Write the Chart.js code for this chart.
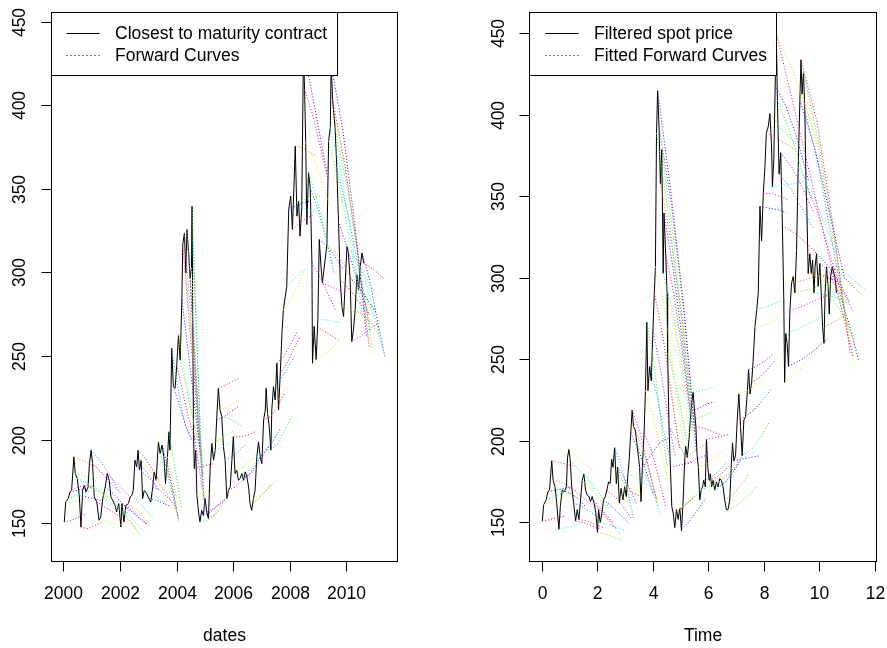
<!DOCTYPE html>
<html>
<head>
<meta charset="utf-8">
<script src="https://cdn.jsdelivr.net/npm/chart.js@4.4.1/dist/chart.umd.min.js"></script>
<style>
  body { margin: 0; background: #fff; }
  canvas { position: absolute; top: 0; }
  #left { left: 0; }
  #right { left: 443px; }
</style>
</head>
<body>
<canvas id="left" width="443" height="648"></canvas>
<canvas id="right" width="444" height="648"></canvas>
<script>
// ---- data: left panel (closest to maturity contract vs dates)
const leftDates = [2000.01, 2000.06, 2000.15, 2000.21, 2000.27, 2000.35, 2000.40, 2000.47, 2000.54, 2000.60, 2000.66, 2000.72, 2000.78, 2000.85, 2000.90, 2000.96,
  2001.01, 2001.07, 2001.16, 2001.24, 2001.30, 2001.37, 2001.46, 2001.53, 2001.60, 2001.66, 2001.75, 2001.81, 2001.86, 2001.94,
  2002.01, 2002.05, 2002.12, 2002.19, 2002.28, 2002.34, 2002.40, 2002.45, 2002.51, 2002.57, 2002.62, 2002.67, 2002.73, 2002.78, 2002.84, 2002.93,
  2003.00, 2003.07, 2003.14, 2003.19, 2003.26, 2003.34, 2003.40, 2003.47, 2003.54, 2003.59, 2003.66, 2003.71, 2003.75, 2003.81, 2003.87, 2003.93, 2003.99,
  2004.05, 2004.11, 2004.17, 2004.20, 2004.26, 2004.31, 2004.35, 2004.41, 2004.46, 2004.51, 2004.53, 2004.58, 2004.61, 2004.66, 2004.70, 2004.76, 2004.81, 2004.87, 2004.93, 2004.99,
  2005.05, 2005.11, 2005.17, 2005.23, 2005.29, 2005.35, 2005.40, 2005.46, 2005.52, 2005.58, 2005.64, 2005.70, 2005.76, 2005.82, 2005.88, 2005.94, 2005.99,
  2006.05, 2006.11, 2006.17, 2006.23, 2006.29, 2006.35, 2006.41, 2006.47, 2006.53, 2006.58, 2006.64, 2006.70, 2006.76, 2006.82, 2006.88, 2006.94,
  2007.00, 2007.06, 2007.12, 2007.15, 2007.20, 2007.26, 2007.32, 2007.35, 2007.41, 2007.47, 2007.53, 2007.59, 2007.65, 2007.71, 2007.76, 2007.88, 2007.95,
  2008.02, 2008.08, 2008.14, 2008.18, 2008.24, 2008.30, 2008.35, 2008.41, 2008.47, 2008.51, 2008.55, 2008.59, 2008.65, 2008.71, 2008.77, 2008.79, 2008.85, 2008.92, 2008.98,
  2009.03, 2009.09, 2009.14, 2009.30, 2009.36, 2009.42, 2009.45, 2009.50, 2009.53, 2009.59, 2009.65, 2009.71, 2009.77, 2009.83, 2009.89,
  2010.01, 2010.06, 2010.12, 2010.18, 2010.24, 2010.30, 2010.36, 2010.42, 2010.48, 2010.54, 2010.60];
const leftSpot = [151, 163, 165, 169, 170, 190, 180, 177, 167, 148, 170, 173, 169, 172, 186, 194,
  186, 166, 163, 152, 154, 165, 172, 180, 176, 166, 163, 161, 157, 162,
  148, 162, 151, 161, 162, 166, 167, 170, 188, 184, 194, 182, 188, 165, 170, 168,
  165, 163, 172, 181, 176, 199, 192, 197, 189, 174, 190, 205, 194, 255, 232, 231, 245,
  263, 248, 284, 317, 324, 300, 326, 312, 297, 303, 340, 206, 183, 194, 167, 157, 151, 158, 155, 165,
  157, 153, 183, 198, 188, 194, 212, 231, 218, 214, 196, 188, 165, 170, 172, 188, 202,
  180, 182, 176, 177, 180, 176, 181, 178, 172, 162, 158, 165, 170, 190, 199, 190,
  186, 212, 218, 231, 216, 208, 194, 218, 232, 224, 246, 218, 240, 264, 278, 292, 338,
  346, 326, 355, 376, 334, 343, 322, 339, 432, 410, 378, 329, 360, 351, 306, 246, 268, 248, 272,
  320, 304, 294, 317, 379, 387, 425, 404, 398, 387, 363, 331, 296, 280, 274,
  316, 312, 297, 259, 266, 278, 299, 290, 304, 312, 306];

// forward curves: first and last date, and four values evenly spread between them
const leftFwdStart = [2000.00, 2000.06, 2000.15, 2000.21, 2000.27, 2000.35, 2000.40, 2000.47, 2000.54, 2000.60, 2000.72, 2000.85, 2000.96,
  2001.01, 2001.16, 2001.24, 2001.37, 2001.46, 2001.53, 2001.66, 2001.81, 2001.94,
  2002.05, 2002.19, 2002.28, 2002.40, 2002.51, 2002.57, 2002.62, 2002.73, 2002.84,
  2003.00, 2003.14, 2003.26, 2003.34, 2003.40, 2003.47, 2003.54, 2003.66, 2003.71, 2003.81, 2003.87, 2003.99,
  2004.05, 2004.11, 2004.17, 2004.20, 2004.26, 2004.31, 2004.35, 2004.41, 2004.46, 2004.51, 2004.53, 2004.55, 2004.58, 2004.61, 2004.70, 2004.81, 2004.93,
  2005.05, 2005.11, 2005.23, 2005.35, 2005.40, 2005.46, 2005.52, 2005.58, 2005.70, 2005.82, 2005.99,
  2006.11, 2006.23, 2006.35, 2006.47, 2006.58, 2006.70, 2006.82, 2006.94,
  2007.06, 2007.20, 2007.32, 2007.41, 2007.53, 2007.65, 2007.76, 2007.88, 2007.95,
  2008.08, 2008.18, 2008.30, 2008.41, 2008.47, 2008.51, 2008.55, 2008.65, 2008.71, 2008.77, 2008.85, 2008.92, 2008.98,
  2009.03, 2009.14, 2009.30, 2009.36, 2009.42, 2009.45, 2009.50, 2009.53, 2009.59, 2009.65, 2009.71, 2009.77, 2009.83,
  2010.01, 2010.12, 2010.18, 2010.30, 2010.42, 2010.48, 2010.54, 2010.60];
const leftFwdEnd = [2000.80, 2000.85, 2000.95, 2001.00, 2001.05, 2001.15, 2001.20, 2001.25, 2001.30, 2001.35, 2001.50, 2001.65, 2002.00,
  2001.90, 2002.00, 2002.10, 2002.20, 2002.30, 2002.40, 2002.55, 2002.70, 2002.80,
  2002.90, 2003.00, 2003.05, 2003.15, 2003.30, 2003.35, 2003.40, 2003.50, 2003.60,
  2003.80, 2003.90, 2003.95, 2004.00, 2004.00, 2004.05, 2004.05, 2004.10, 2004.15, 2004.50, 2004.55, 2004.65,
  2004.70, 2004.75, 2004.80, 2004.82, 2004.85, 2004.87, 2004.88, 2004.90, 2004.92, 2004.93, 2004.95, 2004.98, 2005.00, 2005.30, 2005.40, 2005.60, 2005.70,
  2005.80, 2005.85, 2006.00, 2006.10, 2006.15, 2006.20, 2006.25, 2006.30, 2006.40, 2006.55, 2006.75,
  2006.85, 2006.95, 2007.05, 2007.20, 2007.35, 2007.50, 2007.55, 2007.65,
  2007.80, 2007.90, 2008.05, 2008.15, 2008.25, 2008.35, 2008.50, 2008.60, 2008.70,
  2008.85, 2008.95, 2009.05, 2009.20, 2009.30, 2009.35, 2009.40, 2009.50, 2009.55, 2009.60, 2009.70, 2009.75, 2009.80,
  2009.85, 2009.95, 2010.20, 2010.40, 2010.55, 2010.70, 2010.80, 2010.85, 2010.90, 2010.85, 2010.80, 2010.80, 2010.85,
  2011.00, 2011.05, 2011.10, 2011.15, 2011.25, 2011.30, 2011.35, 2011.35];
const leftFwd = [
  [151, 152, 154, 156], [163, 163, 164, 165], [165, 167, 168, 170], [169, 170, 171, 172], [170, 172, 173, 172],
  [190, 188, 186, 184], [180, 179, 177, 175], [177, 175, 172, 170], [167, 166, 165, 164], [148, 147, 149, 151],
  [173, 171, 169, 166], [172, 170, 168, 165], [194, 187, 178, 168],
  [186, 181, 175, 170], [163, 160, 157, 154], [152, 151, 150, 149], [165, 162, 158, 155], [172, 168, 163, 158],
  [180, 175, 170, 165], [166, 160, 153, 147], [161, 156, 150, 143], [162, 157, 151, 146],
  [162, 158, 154, 150], [161, 157, 153, 149], [162, 159, 154, 150], [167, 163, 158, 153], [188, 184, 178, 172],
  [184, 180, 176, 170], [194, 189, 182, 175], [188, 183, 177, 170], [170, 168, 165, 162],
  [165, 164, 162, 160], [172, 170, 166, 162], [176, 172, 166, 158], [199, 188, 172, 155], [192, 182, 170, 156],
  [197, 185, 170, 153], [189, 178, 166, 152], [190, 180, 168, 157], [205, 190, 175, 160], [255, 230, 210, 200],
  [232, 220, 208, 200], [245, 228, 212, 200],
  [263, 240, 218, 202], [248, 232, 215, 198], [284, 255, 225, 195], [317, 275, 235, 190], [324, 280, 235, 190],
  [300, 265, 225, 185], [326, 280, 230, 182], [312, 265, 220, 178], [297, 250, 205, 170], [303, 250, 200, 160],
  [340, 275, 210, 165], [320, 260, 200, 158], [206, 190, 175, 160], [183, 184, 185, 186], [167, 168, 170, 172],
  [151, 152, 155, 160], [155, 157, 161, 165],
  [157, 159, 162, 166], [153, 156, 162, 168], [198, 200, 203, 206], [194, 196, 198, 200], [212, 214, 217, 220],
  [231, 233, 235, 237], [218, 220, 222, 225], [214, 213, 211, 208], [188, 190, 193, 197], [170, 172, 176, 180],
  [202, 202, 203, 205],
  [182, 184, 188, 192], [177, 180, 185, 190], [176, 180, 186, 193], [178, 182, 188, 196], [162, 164, 169, 174],
  [165, 167, 171, 176], [190, 193, 198, 204], [190, 194, 200, 207],
  [212, 214, 220, 228], [216, 220, 226, 234], [194, 198, 206, 214], [232, 236, 243, 250], [246, 250, 257, 265],
  [240, 246, 254, 262], [278, 283, 292, 302], [292, 296, 300, 303], [338, 340, 342, 343],
  [326, 330, 333, 335], [376, 375, 372, 370], [343, 344, 345, 346], [339, 338, 336, 334], [432, 410, 385, 360],
  [410, 395, 375, 355], [378, 368, 355, 340], [360, 345, 325, 305], [351, 338, 320, 300], [306, 298, 288, 278],
  [268, 266, 263, 260], [248, 251, 255, 260], [272, 272, 271, 270],
  [320, 316, 310, 303], [294, 292, 290, 287], [317, 312, 305, 295], [379, 355, 325, 290], [387, 360, 320, 275],
  [425, 385, 330, 262], [404, 365, 315, 255], [398, 360, 310, 252], [387, 350, 305, 255], [363, 335, 300, 265],
  [331, 312, 292, 275], [296, 290, 282, 275], [280, 278, 275, 272],
  [316, 308, 298, 288], [297, 292, 284, 276], [259, 262, 266, 270], [278, 275, 270, 262], [290, 284, 274, 260],
  [304, 290, 272, 252], [312, 296, 272, 250], [306, 303, 300, 296]];

// ---- data: right panel (filtered spot price vs Time)
const rightTime = [0.00, 0.05, 0.14, 0.20, 0.26, 0.34, 0.39, 0.46, 0.51, 0.60, 0.65, 0.72, 0.79, 0.87, 0.91, 0.96,
  1.01, 1.06, 1.13, 1.20, 1.26, 1.32, 1.38, 1.44, 1.50, 1.56, 1.62, 1.68, 1.74, 1.80, 1.87, 1.93, 1.99,
  2.03, 2.09, 2.15, 2.21, 2.27, 2.33, 2.39, 2.45, 2.50, 2.55, 2.61, 2.67, 2.72, 2.78, 2.84, 2.91, 2.97,
  3.03, 3.09, 3.13, 3.19, 3.24, 3.29, 3.35, 3.41, 3.47, 3.51, 3.56, 3.61, 3.67, 3.72, 3.77, 3.81, 3.87, 3.93, 3.99,
  4.04, 4.08, 4.12, 4.16, 4.21, 4.26, 4.31, 4.36, 4.39, 4.45, 4.50, 4.52, 4.57, 4.62, 4.67, 4.72, 4.78, 4.84, 4.90, 4.96,
  5.02, 5.08, 5.13, 5.17, 5.23, 5.29, 5.34, 5.40, 5.44, 5.49, 5.54, 5.58, 5.63, 5.68, 5.73, 5.78, 5.82, 5.88, 5.92, 5.97,
  6.02, 6.06, 6.11, 6.16, 6.22, 6.28, 6.34, 6.40, 6.46, 6.52, 6.58, 6.64, 6.70, 6.76, 6.82, 6.86, 6.91, 6.97,
  7.03, 7.09, 7.15, 7.21, 7.27, 7.33, 7.39, 7.44, 7.49, 7.55, 7.60, 7.67, 7.73, 7.79, 7.85, 7.91, 7.97,
  8.03, 8.08, 8.15, 8.21, 8.27, 8.30, 8.35, 8.40, 8.44, 8.48, 8.54, 8.60, 8.66, 8.71, 8.74, 8.78, 8.83, 8.88, 8.93, 8.99,
  9.05, 9.11, 9.17, 9.23, 9.29, 9.33, 9.37, 9.42, 9.47, 9.51, 9.54, 9.59, 9.65, 9.70, 9.75, 9.80, 9.84, 9.89, 9.95,
  10.01, 10.06, 10.11, 10.16, 10.20, 10.25, 10.31, 10.35, 10.40, 10.46, 10.52, 10.57, 10.61];
const rightSpot = [151, 161, 164, 169, 170, 188, 176, 172, 164, 146, 160, 170, 169, 172, 190, 195,
  188, 172, 162, 151, 158, 152, 164, 176, 180, 170, 167, 166, 163, 166, 162, 156, 144,
  158, 150, 156, 164, 166, 170, 175, 174, 189, 184, 196, 174, 184, 162, 171, 164, 172,
  166, 180, 188, 205, 219, 209, 207, 199, 190, 184, 163, 184, 205, 231, 273, 231, 246, 237, 268,
  291, 307, 389, 415, 393, 358, 379, 303, 340, 315, 291, 254, 209, 184, 160, 156, 147, 158, 152, 159,
  145, 164, 186, 197, 190, 201, 213, 225, 230, 219, 209, 192, 184, 164, 170, 172, 176, 172, 201, 184,
  176, 180, 172, 176, 170, 175, 172, 177, 176, 172, 164, 158, 158, 164, 186, 199, 188, 191,
  213, 229, 209, 191, 213, 215, 229, 244, 229, 236, 248, 270, 280, 291, 344, 323, 352,
  368, 389, 393, 401, 381, 356, 373, 418, 450, 409, 364, 377, 332, 287, 236, 266, 260, 246, 280, 297,
  301, 291, 317, 368, 409, 434, 413, 426, 403, 358, 344, 303, 315, 303, 311, 291, 307, 315, 295,
  309, 291, 270, 260, 291, 307, 295, 278, 301, 307, 303, 299, 291];

const rightFwdStart = [0.00, 0.05, 0.14, 0.20, 0.34, 0.39, 0.46, 0.60, 0.72, 0.87, 0.96,
  1.01, 1.13, 1.20, 1.32, 1.44, 1.50, 1.62, 1.74, 1.87, 1.99,
  2.09, 2.21, 2.33, 2.45, 2.50, 2.61, 2.72, 2.84, 2.97,
  3.09, 3.19, 3.24, 3.29, 3.41, 3.51, 3.61, 3.67, 3.72, 3.77, 3.87, 3.99,
  4.04, 4.08, 4.12, 4.16, 4.21, 4.26, 4.31, 4.36, 4.39, 4.45, 4.50, 4.52, 4.57, 4.62, 4.72, 4.84, 4.96,
  5.02, 5.13, 5.23, 5.34, 5.44, 5.49, 5.54, 5.63, 5.73, 5.82, 5.92,
  6.02, 6.11, 6.22, 6.34, 6.46, 6.58, 6.70, 6.82, 6.91,
  7.03, 7.09, 7.21, 7.33, 7.44, 7.55, 7.67, 7.73, 7.85, 7.97,
  8.08, 8.21, 8.30, 8.40, 8.44, 8.46, 8.48, 8.54, 8.60, 8.66, 8.74, 8.78, 8.88, 8.93, 8.99,
  9.11, 9.23, 9.29, 9.33, 9.37, 9.42, 9.47, 9.51, 9.59, 9.70, 9.80, 9.89,
  10.01, 10.11, 10.20, 10.31, 10.40, 10.46, 10.52, 10.61];
const rightFwdEnd = [0.80, 0.90, 1.00, 1.05, 1.10, 1.20, 1.30, 1.40, 1.55, 1.70, 1.95,
  1.90, 2.00, 2.10, 2.20, 2.35, 2.45, 2.55, 2.70, 2.80, 2.90,
  3.00, 3.10, 3.20, 3.25, 3.25, 3.30, 3.40, 3.55, 3.70,
  3.90, 4.00, 4.10, 4.15, 4.20, 4.25, 4.60, 4.45, 4.55, 4.50, 4.60, 4.80,
  4.95, 5.10, 5.40, 5.55, 5.55, 5.50, 5.45, 5.40, 5.40, 5.35, 5.30, 5.20, 5.20, 5.40, 5.50, 5.60, 5.75,
  5.90, 6.00, 6.05, 6.15, 6.20, 6.20, 6.40, 6.50, 6.55, 6.65, 6.70,
  6.85, 6.95, 7.05, 7.15, 7.30, 7.45, 7.75, 7.70, 7.80,
  7.90, 8.00, 8.20, 8.25, 8.30, 8.40, 8.55, 8.60, 8.80, 8.90,
  9.20, 9.40, 9.50, 9.60, 11.20, 10.00, 9.70, 9.80, 9.80, 9.90, 10.10, 10.20, 10.30, 10.40, 10.40,
  10.50, 10.60, 10.90, 11.10, 11.10, 11.00, 10.90, 10.80, 10.70, 10.90, 11.00, 11.10,
  11.20, 11.00, 11.30, 11.35, 11.40, 11.50, 11.25, 11.64];
const rightFwd = [
  [151, 152, 153, 154], [161, 163, 165, 167], [164, 166, 168, 170], [169, 170, 171, 172], [188, 187, 186, 185],
  [176, 175, 173, 170], [172, 170, 168, 165], [146, 147, 148, 150], [170, 168, 165, 160], [172, 170, 166, 162],
  [195, 190, 185, 180],
  [188, 183, 177, 170], [162, 160, 157, 153], [151, 150, 148, 146], [152, 151, 149, 147], [176, 171, 165, 158],
  [180, 174, 166, 158], [167, 162, 156, 150], [163, 158, 152, 146], [162, 156, 149, 143], [144, 143, 141, 139],
  [150, 149, 147, 145], [164, 160, 155, 150], [170, 166, 160, 153], [174, 170, 164, 158], [189, 182, 172, 162],
  [196, 185, 170, 152], [184, 178, 170, 162], [171, 170, 168, 166], [172, 171, 170, 168],
  [180, 178, 175, 172], [205, 195, 182, 168], [219, 205, 185, 165], [209, 198, 182, 162], [199, 190, 177, 160],
  [184, 178, 168, 155], [184, 192, 200, 202], [205, 195, 178, 160], [231, 215, 195, 175], [273, 250, 215, 185],
  [246, 230, 208, 190], [268, 245, 215, 190],
  [291, 265, 230, 195], [307, 280, 240, 195], [389, 340, 280, 215], [415, 355, 285, 195], [393, 345, 280, 200],
  [358, 320, 270, 205], [379, 330, 270, 205], [303, 280, 245, 205], [340, 305, 260, 210], [315, 290, 255, 215],
  [291, 270, 240, 205], [254, 240, 222, 200], [209, 203, 196, 190], [184, 185, 186, 187], [156, 158, 162, 166],
  [158, 160, 164, 168], [159, 162, 166, 170],
  [146, 151, 158, 165], [186, 188, 190, 192], [191, 194, 197, 200], [213, 214, 216, 218], [230, 231, 232, 233],
  [219, 221, 223, 224], [209, 208, 206, 204], [184, 186, 190, 194], [170, 172, 176, 181], [176, 178, 182, 187],
  [201, 202, 203, 204],
  [176, 178, 182, 187], [172, 175, 180, 186], [170, 173, 179, 186], [172, 175, 181, 188], [176, 180, 186, 193],
  [164, 167, 173, 180], [158, 161, 166, 172], [186, 188, 191, 194], [188, 189, 190, 191],
  [213, 215, 219, 224], [229, 231, 234, 238], [191, 195, 202, 212], [215, 219, 225, 232], [244, 246, 249, 253],
  [236, 239, 244, 250], [270, 271, 273, 276], [281, 282, 284, 286], [344, 343, 342, 340], [352, 352, 350, 348],
  [389, 386, 382, 378], [401, 392, 385, 377], [356, 357, 358, 360], [418, 405, 385, 360], [450, 385, 318, 252],
  [448, 430, 405, 380], [409, 392, 370, 348], [364, 355, 342, 330], [377, 368, 355, 340], [332, 328, 322, 315],
  [236, 242, 252, 262], [266, 269, 273, 278], [246, 250, 256, 263], [280, 283, 287, 290], [297, 299, 301, 303],
  [291, 293, 295, 297], [368, 355, 335, 315], [409, 380, 340, 300], [434, 395, 330, 254], [413, 380, 320, 260],
  [426, 385, 330, 270], [403, 370, 325, 280], [358, 340, 315, 290], [303, 302, 300, 298], [303, 300, 293, 283],
  [291, 290, 288, 285], [315, 308, 298, 285],
  [309, 303, 293, 280], [270, 272, 275, 280], [291, 285, 275, 262], [295, 288, 272, 255], [301, 290, 272, 250],
  [307, 302, 296, 290], [303, 290, 272, 247], [308, 303, 298, 293]];

// axis ticks
const leftXTicks = [2000, 2002, 2004, 2006, 2008, 2010];
const rightXTicks = [0, 2, 4, 6, 8, 10, 12];
const yTicks = [150, 200, 250, 300, 350, 400, 450];

// R rainbow(14)
const rainbow = ['#FF0000', '#FF6D00', '#FFDB00', '#B6FF00', '#49FF00', '#00FF24', '#00FF92',
  '#00FFFF', '#0092FF', '#0024FF', '#4900FF', '#B600FF', '#FF00DB', '#FF006D'];

const FONT = '17.5px "Liberation Sans", Arial, sans-serif';

function fwdSets(starts, ends, curves) {
  return starts.map((t0, i) => ({
    data: curves[i].map((v, j) => ({ x: t0 + (ends[i] - t0) * j / (curves[i].length - 1), y: v })),
    borderColor: rainbow[(i * 3) % rainbow.length],
    borderWidth: 1,
    borderDash: [1, 2],
    pointRadius: 0
  }));
}

function spotSet(xs, ys) {
  return {
    data: xs.map((x, i) => ({ x: x, y: ys[i] })),
    borderColor: '#000',
    borderWidth: 1,
    pointRadius: 0
  };
}

const crisp = v => Math.round(v - 0.5) + 0.5;

// R style box, axes, labels and legend
const rStyle = {
  id: 'rStyle',
  afterDraw(chart, args, o) {
    const { ctx, chartArea: a } = chart;
    const xs = chart.scales.x, ys = chart.scales.y;
    ctx.save();
    ctx.strokeStyle = '#000';
    ctx.fillStyle = '#000';
    ctx.lineWidth = 1;
    ctx.setLineDash([]);
    ctx.strokeRect(a.left, a.top, a.right - a.left, a.bottom - a.top);

    ctx.font = FONT;
    ctx.textAlign = 'center';
    ctx.textBaseline = 'middle';
    // x axis
    const xp = o.xTicks.map(v => crisp(xs.getPixelForValue(v)));
    ctx.beginPath();
    ctx.moveTo(xp[0], a.bottom);
    ctx.lineTo(xp[xp.length - 1], a.bottom);
    xp.forEach(p => { ctx.moveTo(p, a.bottom); ctx.lineTo(p, a.bottom + 10); });
    ctx.stroke();
    o.xTicks.forEach((v, i) => ctx.fillText(String(v), xp[i], 594));
    ctx.fillText(o.xTitle, (a.left + a.right) / 2, 636);

    // y axis
    const yp = yTicks.map(v => crisp(ys.getPixelForValue(v)));
    ctx.beginPath();
    yp.forEach(p => { ctx.moveTo(a.left, p); ctx.lineTo(a.left - 10, p); });
    ctx.stroke();
    yTicks.forEach((v, i) => {
      ctx.save();
      ctx.translate(o.yLabelX, yp[i]);
      ctx.rotate(-Math.PI / 2);
      ctx.fillText(String(v), 0, 0);
      ctx.restore();
    });

    // legend
    const L = o.legend;
    ctx.fillStyle = '#fff';
    ctx.fillRect(a.left, a.top, L.right - a.left, L.bottom - a.top);
    ctx.strokeRect(a.left, a.top, L.right - a.left, L.bottom - a.top);
    ctx.fillStyle = '#000';
    ctx.textAlign = 'left';
    L.items.forEach((txt, i) => {
      const y = L.rows[i];
      ctx.beginPath();
      ctx.setLineDash(i === 0 ? [] : [1, 3]);
      ctx.moveTo(L.x0, y);
      ctx.lineTo(L.x1, y);
      ctx.stroke();
      ctx.fillText(txt, L.tx, y + 0.5);
    });
    ctx.restore();
  }
};

function makeChart(id, datasets, xMin, xMax, yMin, yMax, pad, opts) {
  return new Chart(document.getElementById(id), {
    type: 'line',
    data: { datasets: datasets },
    options: {
      responsive: false,
      animation: false,
      devicePixelRatio: 1,
      layout: { padding: pad },
      scales: {
        x: { type: 'linear', min: xMin, max: xMax, display: false },
        y: { type: 'linear', min: yMin, max: yMax, display: false }
      },
      plugins: { legend: { display: false }, tooltip: { enabled: false }, rStyle: opts }
    },
    plugins: [rStyle]
  });
}

makeChart('left',
  fwdSets(leftFwdStart, leftFwdEnd, leftFwd).concat([spotSet(leftDates, leftSpot)]),
  1999.558, 2011.797, 127.38, 455.86,
  { left: 51.5, right: 45.5, top: 12.5, bottom: 86.5 },
  {
    xTicks: leftXTicks, xTitle: 'dates', yLabelX: 20,
    legend: { right: 337.5, bottom: 75.5, x0: 66.5, x1: 99.5, rows: [33.5, 55.5], tx: 115,
      items: ['Closest to maturity contract', 'Forward Curves'] }
  });

makeChart('right',
  fwdSets(rightFwdStart, rightFwdEnd, rightFwd).concat([spotSet(rightTime, rightSpot)]),
  -0.4617, 12.054, 126.2, 463.0,
  { left: 86.5, right: 10.5, top: 12.5, bottom: 86.5 },
  {
    xTicks: rightXTicks, xTitle: 'Time', yLabelX: 55.7,
    legend: { right: 333.5, bottom: 75.5, x0: 102.5, x1: 135.5, rows: [33.5, 55.5], tx: 151,
      items: ['Filtered spot price', 'Fitted Forward Curves'] }
  });
</script>
</body>
</html>
